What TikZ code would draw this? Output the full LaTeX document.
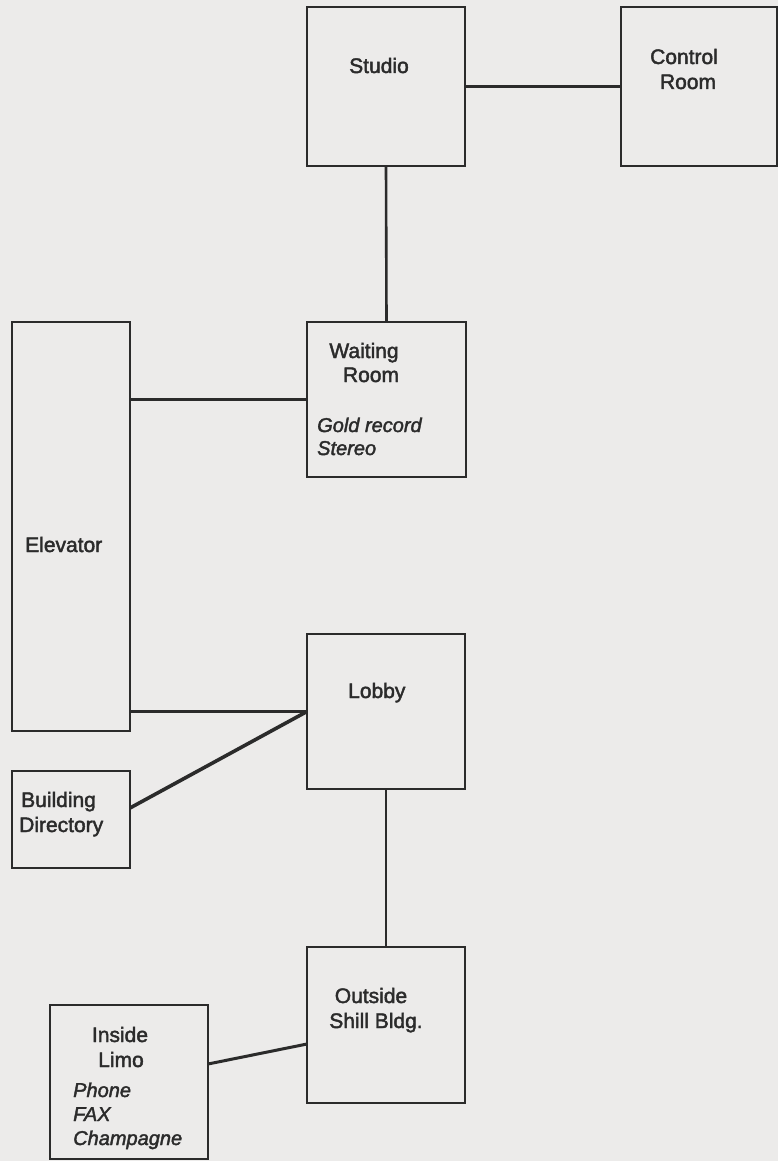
\documentclass[tikz,border=0pt]{standalone}
\usepackage{fontspec}
\setmainfont{Liberation Sans}[FakeBold=2]
\newfontfamily\scanit{Liberation Sans Italic}[FakeBold=2]
\begin{document}
\begin{tikzpicture}[x=1pt,y=-1pt,
  box/.style={draw=ink,line width=2.2pt,inner sep=0pt,outer sep=0pt},
  conn/.style={draw=ink,line width=2.6pt},
  lbl/.style={inner sep=0pt,text=ink,font=\fontsize{21}{25}\selectfont},
  itl/.style={inner sep=0pt,text=ink,font=\scanit\fontsize{20}{24}\selectfont,anchor=base west}]
\definecolor{ink}{HTML}{2B2B2B}
\definecolor{paper}{HTML}{ECEBEA}
\fill[paper] (0,0) rectangle (778,1161);
\useasboundingbox (0,0) rectangle (778,1161);
% boxes
\node[box,minimum width=158pt,minimum height=159pt] (studio) at (386,86.5) {};
\node[box,minimum width=156pt,minimum height=159pt] (control) at (699,86.5) {};
\node[box,minimum width=159pt,minimum height=155pt] (waiting) at (386.5,399.5) {};
\node[box,minimum width=118pt,minimum height=409pt] (elevator) at (71,526.5) {};
\node[box,minimum width=158pt,minimum height=155pt] (lobby) at (386,711.5) {};
\node[box,minimum width=118pt,minimum height=97pt] (directory) at (71,819.5) {};
\node[box,minimum width=158pt,minimum height=156pt] (outside) at (386,1025) {};
\node[box,minimum width=158pt,minimum height=154pt] (limo) at (129,1082) {};
% labels
\node[lbl,anchor=base] (studiot) at (379,73) {Studio};
\node[lbl,anchor=base] (controlt1) at (684,64) {Control};
\node[lbl,anchor=base] (controlt2) at (688,89) {Room};
\node[lbl,anchor=base] (waitingt1) at (364,358) {Waiting};
\node[lbl,anchor=base] (waitingt2) at (371,382) {Room};
\node[itl] (waitingi1) at (317,432) {Gold record};
\node[itl] (waitingi2) at (317,455) {Stereo};
\node[lbl,anchor=base west] (elevatort) at (25,552) {Elevator};
\node[lbl,anchor=base west] (lobbyt) at (348,698) {Lobby};
\node[lbl,anchor=base west] (directoryt1) at (21,807) {Building};
\node[lbl,anchor=base west] (directoryt2) at (19,832) {Directory};
\node[lbl,anchor=base] (outsidet1) at (371,1003) {Outside};
\node[lbl,anchor=base] (outsidet2) at (376,1028) {Shill Bldg.};
\node[lbl,anchor=base] (limot1) at (120,1042) {Inside};
\node[lbl,anchor=base] (limot2) at (121,1067) {Limo};
\node[itl] (limoi1) at (73,1097) {Phone};
\node[itl] (limoi2) at (73,1121) {FAX};
\node[itl] (limoi3) at (73,1145) {Champagne};
% connector end points
\coordinate (dirout) at ([yshift=11.5pt]directory.east);
\coordinate (limoout) at ([yshift=18pt]limo.east);
\coordinate (outsidein) at ([yshift=-19pt]outside.west);
% connectors
\draw[conn] (studio.east) -- (control.west);
\draw[conn] (studio.south) -- (waiting.north);
\draw[conn] (waiting.west) -- (waiting.west -| elevator.east);
\draw[conn] (lobby.west) -- (lobby.west -| elevator.east);
\draw[draw=ink,line width=3.6pt] (dirout) -- (lobby.west);
\draw[conn] (lobby.south) -- (outside.north);
\draw[draw=ink,line width=3pt] (limoout) -- (outsidein);
\end{tikzpicture}
\end{document}
